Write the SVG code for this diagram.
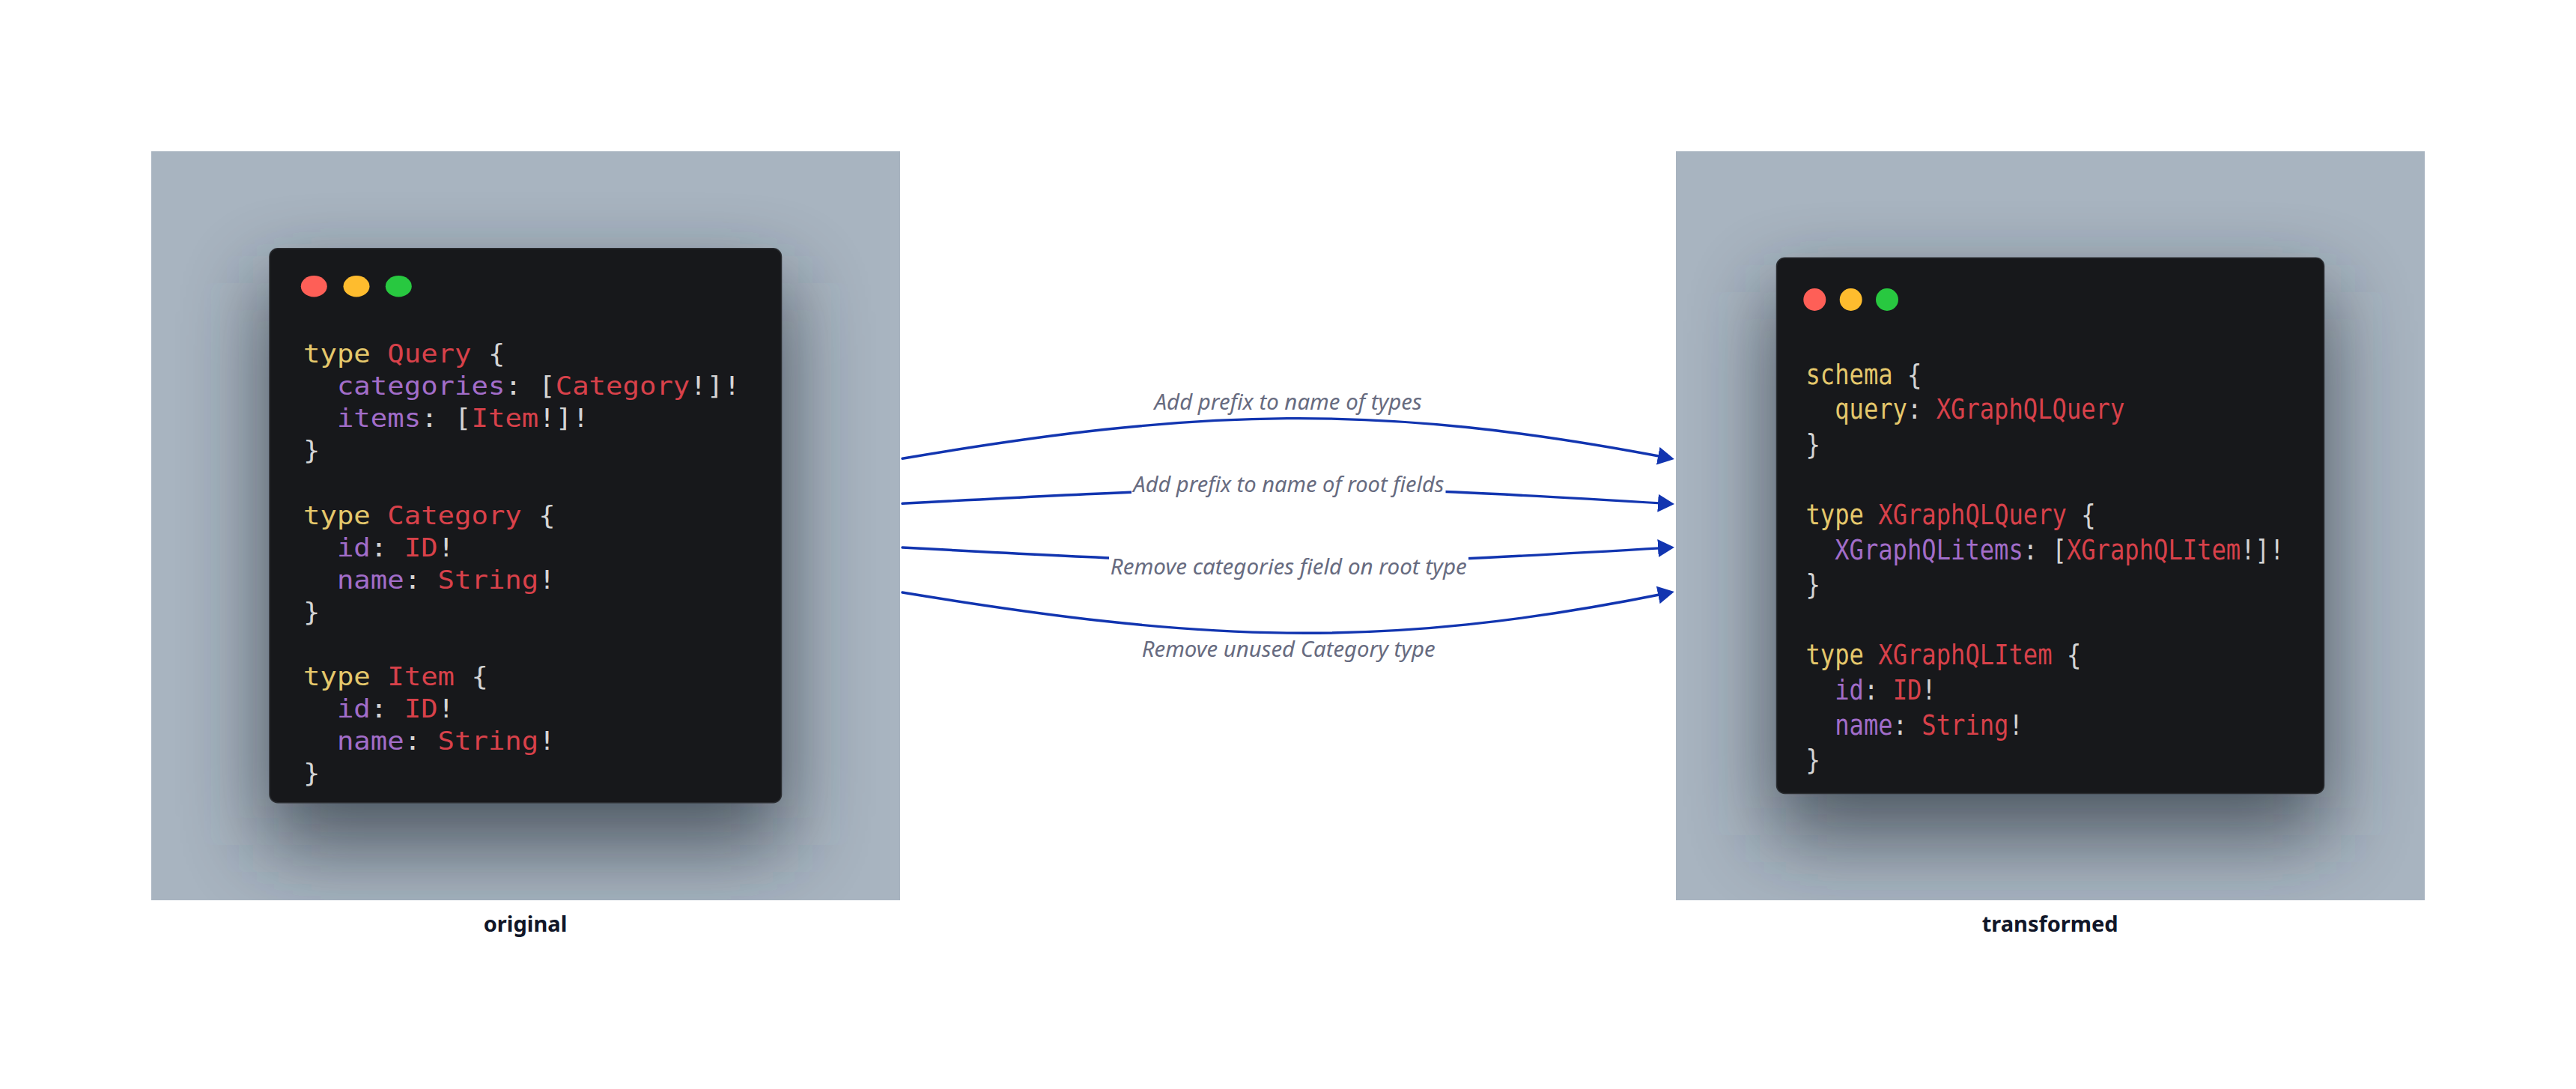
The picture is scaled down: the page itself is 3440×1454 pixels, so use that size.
<svg xmlns="http://www.w3.org/2000/svg" width="3440" height="1454" viewBox="0 0 3440 1454">
<style>
.panel{fill:#a8b4c0}
.card{fill:#17181b;stroke:#2b2d31;stroke-width:1.5}
.shadow{fill:#232b34;opacity:0.68}
.code{font-family:"DejaVu Sans Mono","Liberation Mono",monospace}
.codeL{font-size:34px}
.codeR{font-size:37px}
.k{fill:#e5c86c}
.t{fill:#d8414a}
.f{fill:#a26dc9}
.p{fill:#d4d4d4}
.cap{font-family:"Noto Sans","Liberation Sans",sans-serif;font-weight:700;font-size:29px;fill:#111628;text-anchor:middle}
.lbl{font-family:"Noto Sans","Liberation Sans",sans-serif;font-style:italic;font-size:29px;fill:#676b80}
.edge{fill:none;stroke:#1235b0;stroke-width:3.4;stroke-linecap:round}
.lblbg{fill:#ffffff}
</style>
<defs>
<filter id="blur" x="-40%" y="-40%" width="180%" height="180%"><feGaussianBlur stdDeviation="55"/></filter>
<clipPath id="clipL"><rect x="202" y="202" width="1000" height="1000"/></clipPath>
<clipPath id="clipR"><rect x="2238" y="202" width="1000" height="1000"/></clipPath>
<marker id="arrow" viewBox="0 0 22 24" refX="12" refY="12" markerWidth="22" markerHeight="24" markerUnits="userSpaceOnUse" orient="auto">
<path d="M0 0 L22 12 L0 24 Z" fill="#1235b0"/>
</marker>
</defs>
<rect width="3440" height="1454" fill="#ffffff"/>

<g id="node-original">
<rect class="panel" x="202" y="202" width="1000" height="1000"/>
<g clip-path="url(#clipL)"><rect class="shadow" x="355" y="378" width="694" height="750" rx="11" filter="url(#blur)"/></g>
<rect class="card" x="360" y="331.7" width="683.5" height="740" rx="11"/>
<ellipse cx="419.3" cy="382.3" rx="17.5" ry="14.2" fill="#fe5f57"/>
<ellipse cx="476" cy="382.3" rx="17.5" ry="14.2" fill="#febc2e"/>
<ellipse cx="532.3" cy="382.3" rx="17.5" ry="14.2" fill="#28c840"/>
<g class="code codeL" transform="translate(405 484.3) scale(1.097 1)">
<text x="0" y="0"><tspan class="k">type</tspan> <tspan class="t">Query</tspan> <tspan class="p">{</tspan></text>
<text x="40.94" y="43.05"><tspan class="f">categories</tspan><tspan class="p">: [</tspan><tspan class="t">Category</tspan><tspan class="p">!]!</tspan></text>
<text x="40.94" y="86.1"><tspan class="f">items</tspan><tspan class="p">: [</tspan><tspan class="t">Item</tspan><tspan class="p">!]!</tspan></text>
<text x="0" y="129.15" class="p">}</text>
<text x="0" y="215.25"><tspan class="k">type</tspan> <tspan class="t">Category</tspan> <tspan class="p">{</tspan></text>
<text x="40.94" y="258.3"><tspan class="f">id</tspan><tspan class="p">: </tspan><tspan class="t">ID</tspan><tspan class="p">!</tspan></text>
<text x="40.94" y="301.35"><tspan class="f">name</tspan><tspan class="p">: </tspan><tspan class="t">String</tspan><tspan class="p">!</tspan></text>
<text x="0" y="344.4" class="p">}</text>
<text x="0" y="430.5"><tspan class="k">type</tspan> <tspan class="t">Item</tspan> <tspan class="p">{</tspan></text>
<text x="40.94" y="473.55"><tspan class="f">id</tspan><tspan class="p">: </tspan><tspan class="t">ID</tspan><tspan class="p">!</tspan></text>
<text x="40.94" y="516.6"><tspan class="f">name</tspan><tspan class="p">: </tspan><tspan class="t">String</tspan><tspan class="p">!</tspan></text>
<text x="0" y="559.65" class="p">}</text>
</g>
<text class="cap" x="701.5" y="1243.5">original</text>
</g>

<g id="node-transformed">
<rect class="panel" x="2238" y="202" width="1000" height="1000"/>
<g clip-path="url(#clipR)"><rect class="shadow" x="2367.5" y="390" width="741" height="725" rx="11" filter="url(#blur)"/></g>
<rect class="card" x="2372.5" y="344.3" width="731" height="715.2" rx="11"/>
<circle cx="2423.3" cy="400" r="15" fill="#fe5f57"/>
<circle cx="2471.7" cy="400" r="15" fill="#febc2e"/>
<circle cx="2520" cy="400" r="15" fill="#28c840"/>
<g class="code codeR" transform="translate(2411.5 512.7) scale(0.869 1)">
<text x="0" y="0"><tspan class="k">schema</tspan> <tspan class="p">{</tspan></text>
<text x="44.55" y="46.8"><tspan class="k">query</tspan><tspan class="p">: </tspan><tspan class="t">XGraphQLQuery</tspan></text>
<text x="0" y="93.6" class="p">}</text>
<text x="0" y="187.2"><tspan class="k">type</tspan> <tspan class="t">XGraphQLQuery</tspan> <tspan class="p">{</tspan></text>
<text x="44.55" y="234"><tspan class="f">XGraphQLitems</tspan><tspan class="p">: [</tspan><tspan class="t">XGraphQLItem</tspan><tspan class="p">!]!</tspan></text>
<text x="0" y="280.8" class="p">}</text>
<text x="0" y="374.4"><tspan class="k">type</tspan> <tspan class="t">XGraphQLItem</tspan> <tspan class="p">{</tspan></text>
<text x="44.55" y="421.2"><tspan class="f">id</tspan><tspan class="p">: </tspan><tspan class="t">ID</tspan><tspan class="p">!</tspan></text>
<text x="44.55" y="468"><tspan class="f">name</tspan><tspan class="p">: </tspan><tspan class="t">String</tspan><tspan class="p">!</tspan></text>
<text x="0" y="514.8" class="p">}</text>
</g>
<text class="cap" x="2737.7" y="1243.5">transformed</text>
</g>

<g id="connectors">
<g id="edge-1">
<path class="edge" d="M1205 612.3 C1600 545 1840 537 2226 611" marker-end="url(#arrow)"/>
<text class="lbl" x="1541.6" y="546.7" textLength="357" lengthAdjust="spacingAndGlyphs">Add prefix to name of types</text>
</g>
<g id="edge-2">
<path class="edge" d="M1205 672.3 C1700 645.6 1770 645 2226 672.4" marker-end="url(#arrow)"/>
<rect class="lblbg" x="1511" y="633" width="419.5" height="34"/>
<text class="lbl" x="1513.3" y="657.3" textLength="415" lengthAdjust="spacingAndGlyphs">Add prefix to name of root fields</text>
</g>
<g id="edge-3">
<path class="edge" d="M1205 731 C1700 757.7 1770 758 2226 731.4" marker-end="url(#arrow)"/>
<rect class="lblbg" x="1481" y="742" width="480" height="35"/>
<text class="lbl" x="1482.8" y="766.7" textLength="476" lengthAdjust="spacingAndGlyphs">Remove categories field on root type</text>
</g>
<g id="edge-4">
<path class="edge" d="M1205 791 C1600 856 1840 870 2226 792" marker-end="url(#arrow)"/>
<text class="lbl" x="1524.7" y="876.7" textLength="392" lengthAdjust="spacingAndGlyphs">Remove unused Category type</text>
</g>
</g>
</svg>
